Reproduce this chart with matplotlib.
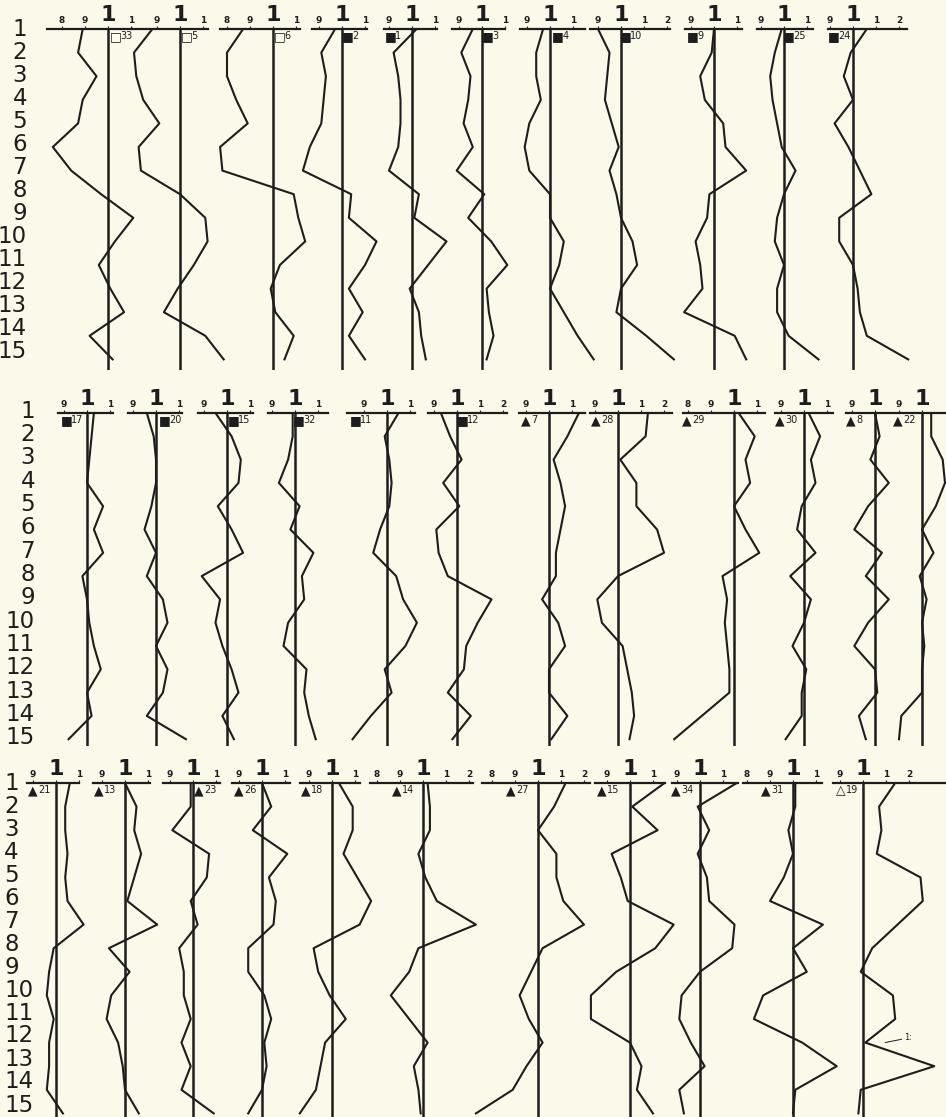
import matplotlib
matplotlib.use('Agg')
import matplotlib.pyplot as plt
from matplotlib import font_manager

# narrow digits as in the scan, if a condensed face is available
installed = {f.name for f in font_manager.fontManager.ttflist}
NARROW = [n for n in ['DejaVu Sans Condensed', 'Liberation Sans Narrow'] if n in installed]
plt.rcParams['font.family'] = NARROW + ['DejaVu Sans']

PAPER = '#fbf9ea'
INK = '#1d1d1d'
W, H = 946, 1117
PX = 230.0  # pixels for one unit on every panel's x scale

ROWS = list(range(1, 16))
TICK_TEXT = {0.8: '8', 0.9: '9', 1.0: '1', 1.1: '1', 1.2: '2'}

# ---- values (row 1 .. 15, index around 1.0) ----
# top row
s33 = [0.89, 0.87, 0.95, 0.89, 0.87, 0.76, 0.84, 0.97, 1.11, 1.03, 0.96, 1.01, 1.07, 0.92, 1.02]
s5 = [0.88, 0.80, 0.81, 0.84, 0.91, 0.82, 0.83, 1.00, 1.11, 1.12, 1.06, 0.99, 0.93, 1.11, 1.19]
s6 = [0.87, 0.80, 0.80, 0.84, 0.89, 0.77, 0.78, 1.09, 1.11, 1.14, 1.03, 0.99, 1.01, 1.09, 1.05]
s2 = [0.97, 0.91, 0.93, 0.92, 0.91, 0.86, 0.83, 1.04, 1.03, 1.15, 1.10, 1.03, 1.09, 1.03, 1.10]
s1 = [1.02, 0.92, 0.94, 0.95, 0.95, 0.94, 0.90, 1.03, 1.01, 1.15, 1.07, 0.99, 1.03, 1.04, 1.06]
s3 = [0.96, 0.91, 0.95, 0.94, 0.92, 0.96, 0.89, 1.01, 0.94, 1.04, 1.11, 1.02, 1.03, 1.05, 1.02]
s4 = [0.97, 0.94, 0.94, 0.96, 0.91, 0.89, 0.91, 1.00, 1.00, 1.06, 1.04, 1.00, 1.06, 1.12, 1.19]
s10 = [0.90, 0.95, 0.94, 0.93, 0.96, 0.99, 0.95, 0.98, 1.00, 1.05, 1.07, 1.00, 0.98, 1.11, 1.23]
s9 = [1.00, 0.99, 0.94, 0.96, 1.04, 1.05, 1.14, 0.98, 0.97, 0.92, 0.94, 0.95, 0.87, 1.09, 1.14]
s25 = [0.99, 0.96, 0.94, 0.95, 0.97, 0.99, 1.05, 1.00, 0.97, 0.96, 1.00, 0.97, 0.97, 1.02, 1.15]
s24 = [1.06, 0.99, 0.96, 1.00, 0.92, 0.98, 1.03, 1.08, 0.94, 0.94, 1.00, 1.02, 1.03, 1.06, 1.24]
# middle row
s17 = [1.03, 1.02, 1.01, 1.00, 1.07, 1.03, 1.07, 0.98, 1.00, 1.01, 1.03, 1.06, 1.00, 1.02, 0.92]
s20 = [0.96, 0.99, 1.00, 1.00, 0.98, 0.95, 1.00, 0.96, 1.03, 1.05, 1.00, 1.05, 1.03, 0.96, 1.13]
s15a = [0.95, 1.02, 1.06, 1.05, 0.96, 1.02, 1.07, 0.89, 0.97, 0.95, 0.98, 1.02, 1.05, 0.98, 1.03]
s32 = [0.99, 0.99, 0.97, 0.93, 1.02, 0.98, 1.08, 1.03, 1.04, 0.97, 0.95, 1.05, 1.04, 1.06, 1.09]
s11 = [1.05, 0.99, 1.01, 1.02, 1.01, 0.97, 0.94, 1.04, 1.07, 1.13, 1.08, 0.99, 1.02, 0.93, 0.85]
s12 = [0.93, 0.97, 1.02, 0.94, 1.01, 0.91, 0.92, 0.96, 1.15, 1.09, 1.04, 1.03, 0.96, 1.06, 0.98]
s7 = [1.13, 1.08, 1.02, 1.05, 1.07, 1.05, 1.03, 1.03, 0.97, 1.04, 1.07, 1.00, 1.00, 1.08, 1.01]
s28 = [1.13, 1.12, 1.01, 1.08, 1.08, 1.17, 1.20, 1.00, 0.91, 0.93, 1.02, 1.04, 1.06, 1.07, 1.05]
s29 = [1.02, 1.09, 1.05, 1.07, 1.00, 1.05, 1.11, 0.95, 0.97, 0.96, 0.97, 0.98, 0.98, 0.86, 0.74]
s30 = [1.02, 1.07, 1.03, 1.05, 0.99, 0.97, 1.05, 0.94, 1.03, 1.00, 0.95, 1.01, 0.99, 0.99, 0.92]
s8 = [1.00, 1.02, 0.98, 1.06, 0.97, 0.91, 1.03, 0.96, 1.06, 0.97, 0.91, 1.00, 1.01, 0.93, 0.96]
s22 = [1.04, 1.04, 1.09, 1.10, 1.06, 1.00, 1.05, 0.99, 1.02, 1.00, 1.01, 1.00, 1.00, 0.91, 0.90]
# bottom row
s21 = [1.06, 1.04, 1.04, 1.05, 1.04, 1.05, 1.12, 0.99, 0.97, 0.96, 0.99, 0.97, 0.97, 0.96, 1.03]
s13 = [1.00, 1.05, 1.04, 1.07, 1.04, 1.01, 1.14, 0.93, 1.02, 0.94, 0.92, 0.97, 0.99, 1.00, 1.06]
s23 = [0.99, 0.99, 0.91, 1.07, 1.06, 0.99, 1.02, 0.94, 0.96, 0.96, 0.99, 0.95, 0.99, 0.95, 1.09]
s26 = [1.00, 1.04, 0.96, 1.11, 1.03, 1.06, 1.05, 0.94, 0.94, 1.01, 1.04, 1.01, 1.02, 1.00, 0.94]
s18 = [1.03, 1.09, 1.09, 1.05, 1.11, 1.17, 1.12, 0.92, 0.94, 0.99, 1.06, 0.97, 0.95, 0.93, 0.86]
s14 = [1.02, 1.03, 1.03, 0.98, 1.01, 1.06, 1.23, 0.98, 0.94, 0.86, 0.94, 1.02, 0.96, 0.98, 0.99]
s27 = [1.12, 1.07, 1.00, 1.08, 1.08, 1.11, 1.20, 1.02, 0.97, 0.92, 0.96, 1.02, 0.95, 0.89, 0.73]
s15b = [1.15, 1.01, 1.12, 0.92, 0.96, 0.99, 1.19, 1.11, 0.94, 0.83, 0.83, 1.00, 1.05, 1.03, 1.10]
s34 = [1.16, 0.99, 1.04, 0.99, 1.03, 1.04, 1.15, 1.14, 1.00, 0.92, 0.91, 0.96, 1.02, 0.91, 0.93]
s31 = [1.01, 1.01, 0.98, 1.00, 0.96, 0.90, 1.13, 1.00, 1.06, 0.87, 0.83, 1.04, 1.19, 1.01, 1.00]
s19 = [1.14, 1.07, 1.08, 1.06, 1.25, 1.26, 1.15, 1.04, 0.99, 1.13, 1.14, 1.01, 1.31, 0.99, 0.98]

T3 = [0.9, 1.0, 1.1]
T4 = [0.9, 1.0, 1.1, 1.2]
T8 = [0.8, 0.9, 1.0, 1.1]
T5 = [0.8, 0.9, 1.0, 1.1, 1.2]

# layout: (centre px, axis line from px, to px, ticks, glyph, tag, tag px, values)
row_top = [
    (108, 47, 132, T8, '□', '33', 110, s33),
    (180, 133, 208, T3, '□', '5', 181, s5),
    (273, 220, 300, T8, '□', '6', 274, s6),
    (342, 312, 367, T3, '■', '2', 342, s2),
    (412, 384, 437, T3, '■', '1', 385, s1),
    (482, 452, 505, T3, '■', '3', 482, s3),
    (550, 520, 585, T3, '■', '4', 552, s4),
    (621, 590, 670, T4, '■', '10', 620, s10),
    (714, 685, 742, T3, '■', '9', 687, s9),
    (784, 757, 813, T3, '■', '25', 783, s25),
    (853, 828, 907, T4, '■', '24', 828, s24),
]
row_mid = [
    (87, 58, 113, T3, '■', '17', 61, s17),
    (156, 128, 182, T3, '■', '20', 159, s20),
    (227, 198, 253, T3, '■', '15', 228, s15a),
    (295, 268, 328, T3, '■', '32', 293, s32),
    (387, 347, 415, T3, '■', '11', 350, s11),
    (457, 428, 507, T4, '■', '12', 457, s12),
    (549, 519, 585, T3, '▲', '7', 521, s7),
    (618, 590, 672, T4, '▲', '28', 591, s28),
    (734, 683, 765, T8, '▲', '29', 682, s29),
    (804, 775, 833, T3, '▲', '30', 775, s30),
    (875, 846, 892, [0.9, 1.0], '▲', '8', 846, s8),
    (922, 894, 946, [0.9, 1.0], '▲', '22', 893, s22),
]
row_bot = [
    (56, 27, 79, T3, '▲', '21', 28, s21),
    (125, 93, 150, T3, '▲', '13', 94, s13),
    (193, 163, 220, T3, '▲', '23', 194, s23),
    (262, 232, 290, T3, '▲', '26', 234, s26),
    (332, 300, 360, T3, '▲', '18', 301, s18),
    (423, 370, 473, T5, '▲', '14', 392, s14),
    (538, 482, 590, T5, '▲', '27', 506, s27),
    (630, 595, 665, T3, '▲', '15', 597, s15b),
    (700, 672, 738, T3, '▲', '34', 671, s34),
    (793, 743, 822, T8, '▲', '31', 761, s31),
    (863, 833, 946, T4, '△', '19', 836, s19),
]

# (axis line y px, px per row, lowest row shown, row-label y of 1, of 15, label x, align, panels)
blocks = [
    (29, 23.6, 15.45, 29, 352, 27, 'right', row_top),
    (413, 23.3, 15.3, 411, 738, 35, 'right', row_mid),
    (783, 23.6, 15.15, 783, 1105, 4, 'left', row_bot),
]


def draw_panel(fig, top, step, ybot, cx, lo, hi, ticks, glyph, tag, tag_x, vals):
    left = cx - 0.45 * PX
    width = 0.9 * PX
    height = (ybot - 1) * step
    ax = fig.add_axes([left / W, 1 - (top + height) / H, width / W, height / H])
    ax.set_xlim(0.55, 1.45)
    ax.set_ylim(ybot, 1)
    ax.patch.set_visible(False)
    for side in ['left', 'right', 'bottom']:
        ax.spines[side].set_visible(False)
    ax.spines['top'].set_bounds(1 + (lo - cx) / PX, 1 + (hi - cx) / PX)
    ax.spines['top'].set_linewidth(1.6)
    ax.spines['top'].set_color(INK)
    ax.xaxis.tick_top()
    ax.set_xticks(ticks)
    ax.set_xticklabels([TICK_TEXT[t] for t in ticks])
    ax.tick_params(axis='x', length=2, width=0.8, pad=1, labelsize=6.5, colors=INK)
    for t, lab in zip(ticks, ax.get_xticklabels()):
        lab.set_fontweight('bold')
        if t == 1.0:
            lab.set_fontsize(16)
    ax.set_yticks([])

    ax.axvline(1.0, color=INK, lw=1.8)
    ax.plot(vals, ROWS, color=INK, lw=1.5)

    # sample symbol and number just under the axis line
    tx = 1 + (tag_x - cx) / PX
    ax.text(tx, 1.06, glyph, family='DejaVu Sans', fontsize=9, color=INK,
            ha='left', va='top')
    ax.annotate(tag, xy=(tx, 1.08), xytext=(7.5, 0), textcoords='offset points',
                fontsize=7, color=INK, ha='left', va='top')
    return ax


fig = plt.figure(figsize=(W / 100, H / 100), dpi=100, facecolor=PAPER)

for top, step, ybot, y1, y15, lab_x, align, panels in blocks:
    # row numbers down the left edge
    lstep = (y15 - y1) / 14
    lab = fig.add_axes([0, 1 - (y15 + lstep / 2) / H, 40 / W, 15 * lstep / H])
    lab.set_xlim(0, 40)
    lab.set_ylim(15.5, 0.5)
    lab.axis('off')
    for r in ROWS:
        lab.text(lab_x, r, str(r), fontsize=16.5, color=INK, ha=align, va='center')

    for cx, lo, hi, ticks, glyph, tag, tag_x, vals in panels:
        ax = draw_panel(fig, top, step, ybot, cx, lo, hi, ticks, glyph, tag, tag_x, vals)
        if tag == '19':
            ax.annotate('1:', xy=(1.096, 12.0), xytext=(1.18, 11.8),
                        fontsize=6, color=INK, va='center',
                        arrowprops=dict(arrowstyle='-', lw=0.7, color=INK,
                                        shrinkA=0, shrinkB=0))

fig.savefig('out.png', dpi=100, facecolor=PAPER)
